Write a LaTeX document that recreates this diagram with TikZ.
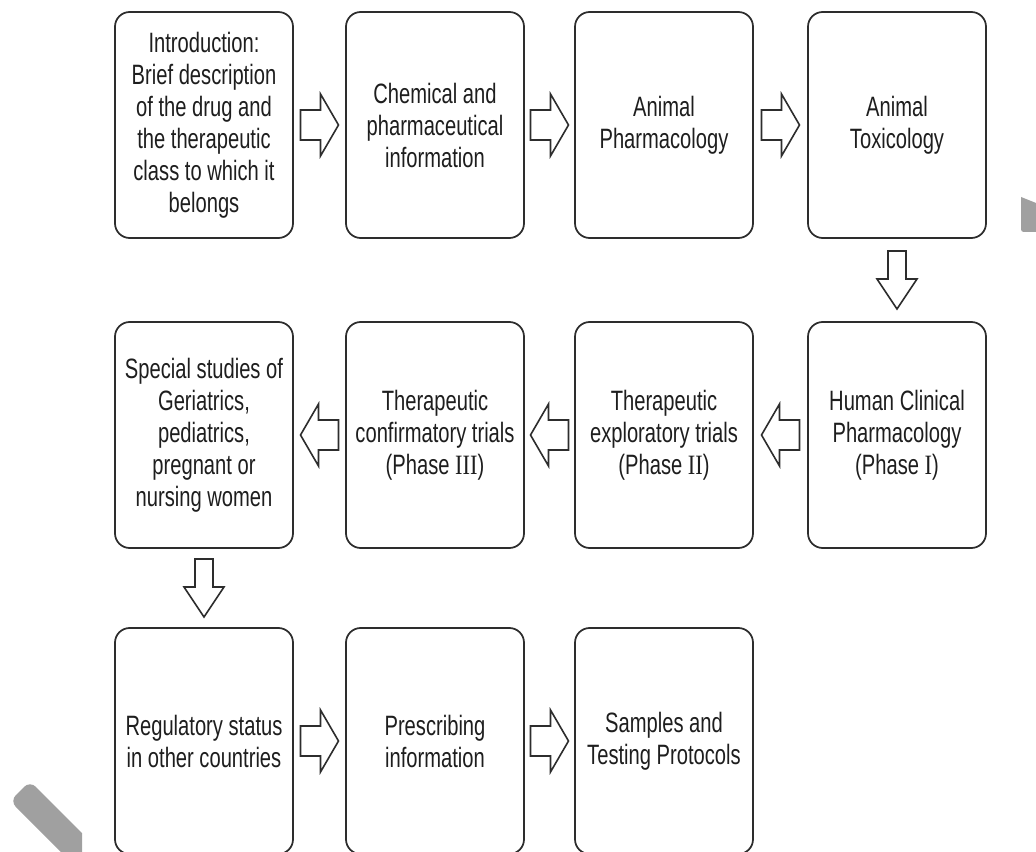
\documentclass[tikz,border=0pt]{standalone}
\usepackage{fontspec}
\setmainfont[FakeStretch=0.72]{Liberation Sans}
\newfontfamily\romfont[FakeStretch=0.8]{Liberation Serif}
\usetikzlibrary{calc}
\definecolor{edge}{RGB}{45,45,45}
\definecolor{ink}{RGB}{30,30,30}
\definecolor{artgray}{RGB}{160,160,160}
\tikzset{
  stagebox/.style={draw=edge, line width=1.3pt, rounded corners=11pt,
    minimum width=133.5pt, minimum height=169.5pt, align=center,
    font=\fontsize{21}{24}\selectfont, text=ink, inner sep=0pt},
  blockarrow/.style={draw=edge, line width=1.2pt, fill=white, line join=miter},
}
\newcommand\blkR[2]{%
  \coordinate (m) at ($(#1.east)!0.5!(#2.west)$);
  \draw[blockarrow, shift={(m)}] (-19,-15) -- (1,-15) -- (1,-31) -- (19,0) -- (1,31) -- (1,15) -- (-19,15) -- cycle;}
\newcommand\blkL[2]{%
  \coordinate (m) at ($(#1.west)!0.5!(#2.east)$);
  \draw[blockarrow, shift={(m)}] (19,-15) -- (-1,-15) -- (-1,-31) -- (-19,0) -- (-1,31) -- (-1,15) -- (19,15) -- cycle;}
\newcommand\blkD[2]{%
  \coordinate (m) at ($(#1.south)!0.5!(#2.north)$);
  \draw[blockarrow, shift={(m)}] (-9,-29) -- (9,-29) -- (9,-1) -- (20,-1) -- (0,29) -- (-20,-1) -- (-9,-1) -- cycle;}
\begin{document}
\begin{tikzpicture}[x=0.75pt, y=-0.75pt]
\useasboundingbox (0,0) rectangle (1036,852);
\fill[white] (0,0) rectangle (1036,852);

% row 1
\node[stagebox] (b1) at (204,125) {Introduction:\\Brief description\\of the drug and\\the therapeutic\\class to which it\\belongs};
\node[stagebox] (b2) at (435,125) {Chemical and\\pharmaceutical\\information};
\node[stagebox] (b3) at (664,125) {Animal\\Pharmacology};
\node[stagebox] (b4) at (897,125) {Animal\\Toxicology};

% row 2
\node[stagebox] (b5) at (897,435) {Human Clinical\\Pharmacology\\(Phase {\romfont I})};
\node[stagebox] (b6) at (664,435) {Therapeutic\\exploratory trials\\(Phase {\romfont II})};
\node[stagebox] (b7) at (435,435) {Therapeutic\\confirmatory trials\\(Phase {\romfont III})};
\node[stagebox] (b8) at (204,435) {Special studies of\\Geriatrics,\\pediatrics,\\pregnant or\\nursing women};

% row 3
\node[stagebox] (b9) at (204,741) {Regulatory status\\in other countries};
\node[stagebox] (b10) at (435,741) {Prescribing\\information};
\node[stagebox] (b11) at (664,741) {Samples and\\Testing Protocols};

% block arrows
\blkR{b1}{b2}
\blkR{b2}{b3}
\blkR{b3}{b4}
\blkD{b4}{b5}
\blkL{b5}{b6}
\blkL{b6}{b7}
\blkL{b7}{b8}
\blkD{b8}{b9}
\blkR{b9}{b10}
\blkR{b10}{b11}

% gray marks at the edges
\fill[artgray] (1021,197) -- (1036,203) -- (1036,232) -- (1027,232) .. controls (1021,232) .. (1021,226) -- cycle;
\begin{scope}
  \clip (0,0) rectangle (82,852);
  \fill[artgray, rounded corners=6pt] (30,781) -- (140,891) -- (120,911) -- (10,801) -- cycle;
\end{scope}
\end{tikzpicture}
\end{document}
